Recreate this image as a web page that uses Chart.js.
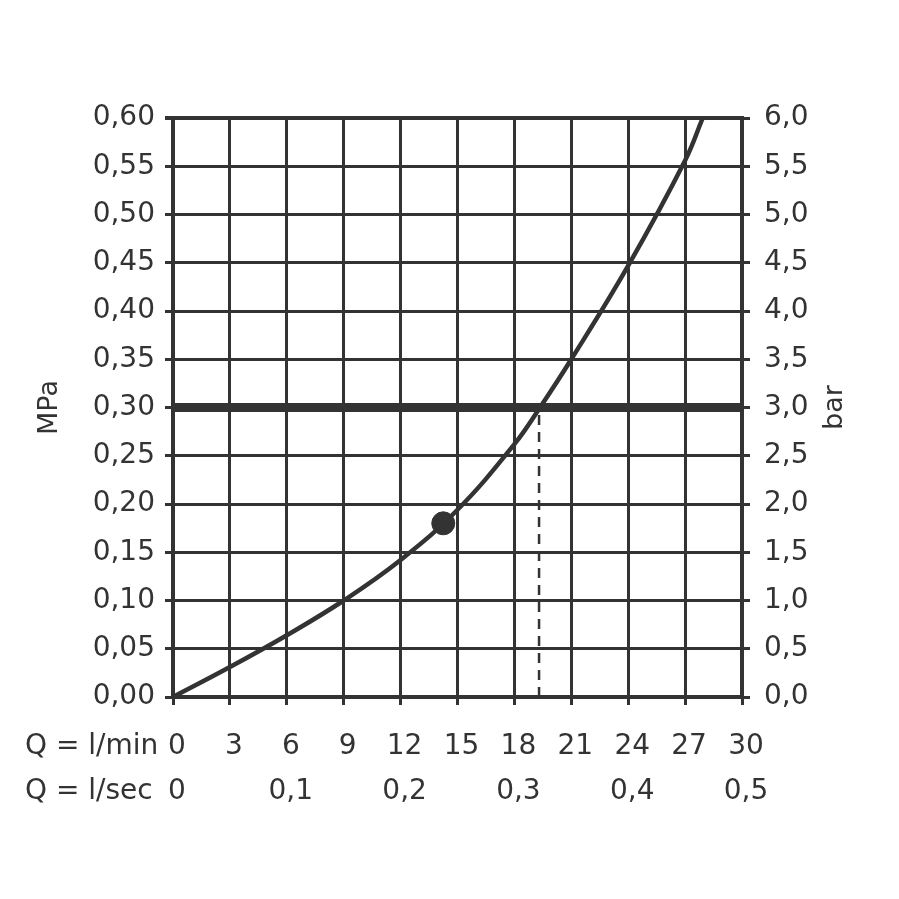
<!DOCTYPE html>
<html>
<head>
<meta charset="utf-8">
<style>
  html, body { margin: 0; padding: 0; background: #fff; }
  canvas { display: block; }
</style>
<script src="https://cdn.jsdelivr.net/npm/chart.js@4.4.1/dist/chart.umd.min.js"></script>
</head>
<body>
<canvas id="chart-1" width="899" height="899"></canvas>
<script>
// pressure curve, read at each flow gridline (l/min -> MPa)
var flowLmin = [0, 3, 6, 9, 12, 15, 18, 19.35, 21, 24, 27, 27.93];
var pressureMPa = [0, 0.031, 0.064, 0.100, 0.142, 0.194, 0.262, 0.300, 0.350, 0.447, 0.556, 0.600];

// marked operating point
var pointFlow = [14.25];
var pointPressure = [0.18];

// reference pressure line and the flow where it meets the curve
var refPressure = 0.30;
var refFlow = 19.3;

var xTicksLmin = [0, 3, 6, 9, 12, 15, 18, 21, 24, 27, 30];
var xTicksLsec = [0, 0.1, 0.2, 0.3, 0.4, 0.5];

var ink = '#333333';
var fontFamily = '"DejaVu Sans", sans-serif';
var tickFont = { family: fontFamily, size: 28 };

function comma(v, d) {
  return v.toFixed(d).replace('.', ',');
}

// row titles under the x axis + right axis title (reads bottom to top)
var extraText = {
  id: 'extraText',
  afterDraw: function(chart) {
    var c = chart.ctx;
    var x = chart.scales.x, x2 = chart.scales.x2, y2 = chart.scales.y2;
    var lh = tickFont.size * 1.2;
    c.save();
    c.fillStyle = ink;
    c.font = tickFont.size + 'px ' + fontFamily;
    c.textAlign = 'left';
    c.textBaseline = 'middle';
    c.fillText('Q = l/min', 25, x.top + 8 + x.options.ticks.padding + lh / 2);
    c.fillText('Q = l/sec', 25, x2.top + x2.options.ticks.padding + lh / 2);
    c.font = '27px ' + fontFamily;
    c.translate(835, (y2.top + y2.bottom) / 2);
    c.rotate(-Math.PI / 2);
    c.textAlign = 'center';
    c.fillText('bar', 0, 0);
    c.restore();
  }
};

var curve = flowLmin.map(function(f, i) { return { x: f, y: pressureMPa[i] }; });

var ctxOne = document.getElementById('chart-1').getContext('2d');
var chart = new Chart(ctxOne, {
  type: 'scatter',
  data: {
    datasets: [{
      // characteristic curve
      data: curve,
      showLine: true,
      borderColor: ink,
      borderWidth: 4.5,
      pointRadius: 0,
      tension: 0.4,
      order: 3
    }, {
      // 0,30 MPa line
      data: [{ x: 0, y: refPressure }, { x: 30, y: refPressure }],
      showLine: true,
      borderColor: ink,
      borderWidth: 9,
      pointRadius: 0,
      order: 4
    }, {
      // dashed drop line
      data: [{ x: refFlow, y: 0 }, { x: refFlow, y: refPressure }],
      showLine: true,
      borderColor: ink,
      borderWidth: 2.5,
      borderDash: [10, 7],
      pointRadius: 0,
      order: 5
    }, {
      data: pointFlow.map(function(f, i) { return { x: f, y: pointPressure[i] }; }),
      pointRadius: 11.5,
      pointBackgroundColor: ink,
      pointBorderColor: ink,
      order: 1
    }]
  },
  options: {
    responsive: false,
    animation: false,
    layout: { padding: { top: 118, left: 0, right: 0, bottom: 0 } },
    plugins: {
      legend: { display: false },
      tooltip: { enabled: false }
    },
    scales: {
      x: {
        type: 'linear',
        position: 'bottom',
        min: 0, max: 30,
        afterBuildTicks: function(s) { s.ticks = xTicksLmin.map(function(v) { return { value: v }; }); },
        afterFit: function(s) { s.height = 58; },
        grid: { color: ink, lineWidth: 3, tickLength: 8 },
        border: { color: ink, width: 4 },
        ticks: { color: ink, font: tickFont, padding: 25, labelOffset: 4, maxRotation: 0, autoSkip: false }
      },
      x2: {
        type: 'linear',
        position: 'bottom',
        min: 0, max: 0.5,
        afterBuildTicks: function(s) { s.ticks = xTicksLsec.map(function(v) { return { value: v }; }); },
        afterFit: function(s) { s.height = 899 - 697 - 58; },
        grid: { display: false, drawTicks: false },
        border: { display: false },
        ticks: {
          color: ink, font: tickFont, padding: 20, labelOffset: 4, maxRotation: 0, autoSkip: false,
          callback: function(v) { return v === 0 ? '0' : comma(v, 1); }
        }
      },
      y: {
        min: 0, max: 0.6,
        ticks: {
          stepSize: 0.05, color: ink, font: tickFont, padding: 10,
          callback: function(v) { return comma(v, 2); }
        },
        afterFit: function(s) { s.width = 173; },
        grid: {
          color: ink, tickLength: 8,
          lineWidth: function(c) { return c.tick && Math.abs(c.tick.value - 0.6) < 1e-6 ? 4 : 3; }
        },
        border: { color: ink, width: 4 },
        title: {
          display: true, text: 'MPa', color: ink,
          font: { family: fontFamily, size: 27 },
          padding: { top: 34, bottom: 0 }
        }
      },
      y2: {
        position: 'right',
        min: 0, max: 6,
        ticks: {
          stepSize: 0.5, color: ink, font: tickFont, padding: 14,
          callback: function(v) { return comma(v, 1); }
        },
        afterFit: function(s) { s.width = 899 - 742; },
        grid: { drawOnChartArea: false, color: ink, lineWidth: 3, tickLength: 8 },
        border: { color: ink, width: 4 }
      }
    }
  },
  plugins: [extraText]
});
</script>
</body>
</html>
